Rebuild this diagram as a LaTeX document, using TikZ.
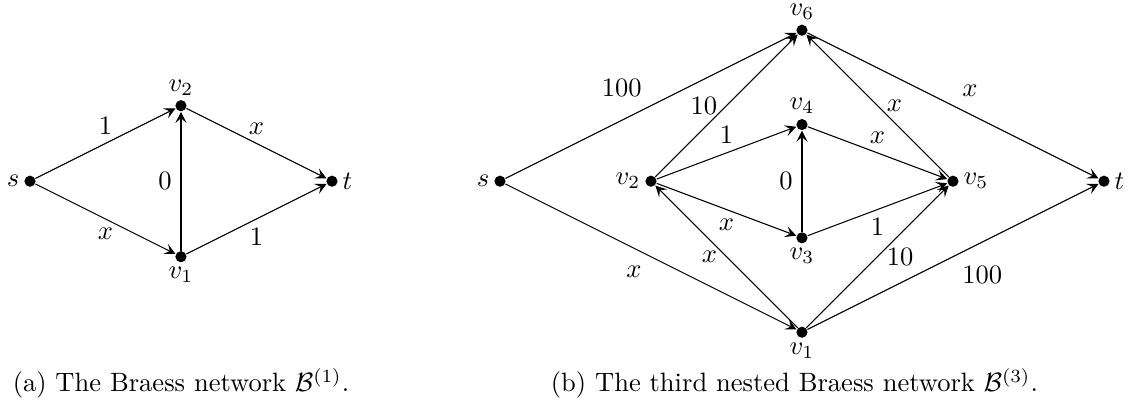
\documentclass[tikz,border=0pt]{standalone}
\usepackage{amsmath}
\usetikzlibrary{arrows.meta}
\tikzset{vertex/.style={circle,fill,inner sep=0pt,minimum size=4.2pt},
    every label/.style={inner sep=1.5pt},
    >={Stealth[length=4.2pt,width=4.2pt,inset=1.8pt]}}
\begin{document}
\begin{tikzpicture}
    \useasboundingbox (-0.397,-2.954) rectangle (14.583,2.40);
    % first network
    \node[vertex,label=left:$s$] (s) at (0,0) {};
    \node[vertex,label=above:$v_2$] (v2) at (2,1) {};
    \node[vertex,label=below:$v_1$] (v1) at (2,-1) {};
    \node[vertex,label=right:$t$] (t) at (4,0) {};
    \draw[->] (s) -- node[above] (e1) {$1$} (v2);
    \draw[->] (v2) -- node[above] (e2) {$x$} (t);
    \draw[->] (s) -- node[below] (e3) {$x$} (v1);
    \draw[->] (v1) -- node[below] (e4) {$1$} (t);
    \draw[->] (v1) -- node[left] (e5) {$0$} (v2);
    \node (capa) at (2,-2.675) {(a) The Braess network $\mathcal{B}^{(1)}$.};
    % nested network
    \begin{scope}[xshift=6.225cm]
        \node[vertex,label=left:$s$] (S) at (0,0) {};
        \node[vertex,label=left:$v_2$] (V2) at (2,0) {};
        \node[vertex,label=above:$v_6$] (V6) at (4,2) {};
        \node[vertex,label=above:$v_4$] (V4) at (4,0.75) {};
        \node[vertex,label=below:$v_3$] (V3) at (4,-0.75) {};
        \node[vertex,label=below:$v_1$] (V1) at (4,-2) {};
        \node[vertex,label=right:$v_5$] (V5) at (6,0) {};
        \node[vertex,label=right:$t$] (T) at (8,0) {};
        \draw[->] (S) -- node[above left] (f1) {$100$} (V6);
        \draw[->] (S) -- node[below left] (f2) {$x$} (V1);
        \draw[->] (V2) -- node[left] (f3) {$10$} (V6);
        \draw[->] (V1) -- node[left] (f4) {$x$} (V2);
        \draw[->] (V2) -- node[above] (f5) {$1$} (V4);
        \draw[->] (V2) -- node[below] (f6) {$x$} (V3);
        \draw[->] (V3) -- node[left] (f7) {$0$} (V4);
        \draw[->] (V4) -- node[above] (f8) {$x$} (V5);
        \draw[->] (V3) -- node[below] (f9) {$1$} (V5);
        \draw[->] (V5) -- node[right] (f10) {$x$} (V6);
        \draw[->] (V1) -- node[right] (f11) {$10$} (V5);
        \draw[->] (V6) -- node[above right] (f12) {$x$} (T);
        \draw[->] (V1) -- node[below right] (f13) {$100$} (T);
        \node (capb) at (3.9,-2.675) {(b) The third nested Braess network $\mathcal{B}^{(3)}$.};
    \end{scope}
\end{tikzpicture}
\end{document}
